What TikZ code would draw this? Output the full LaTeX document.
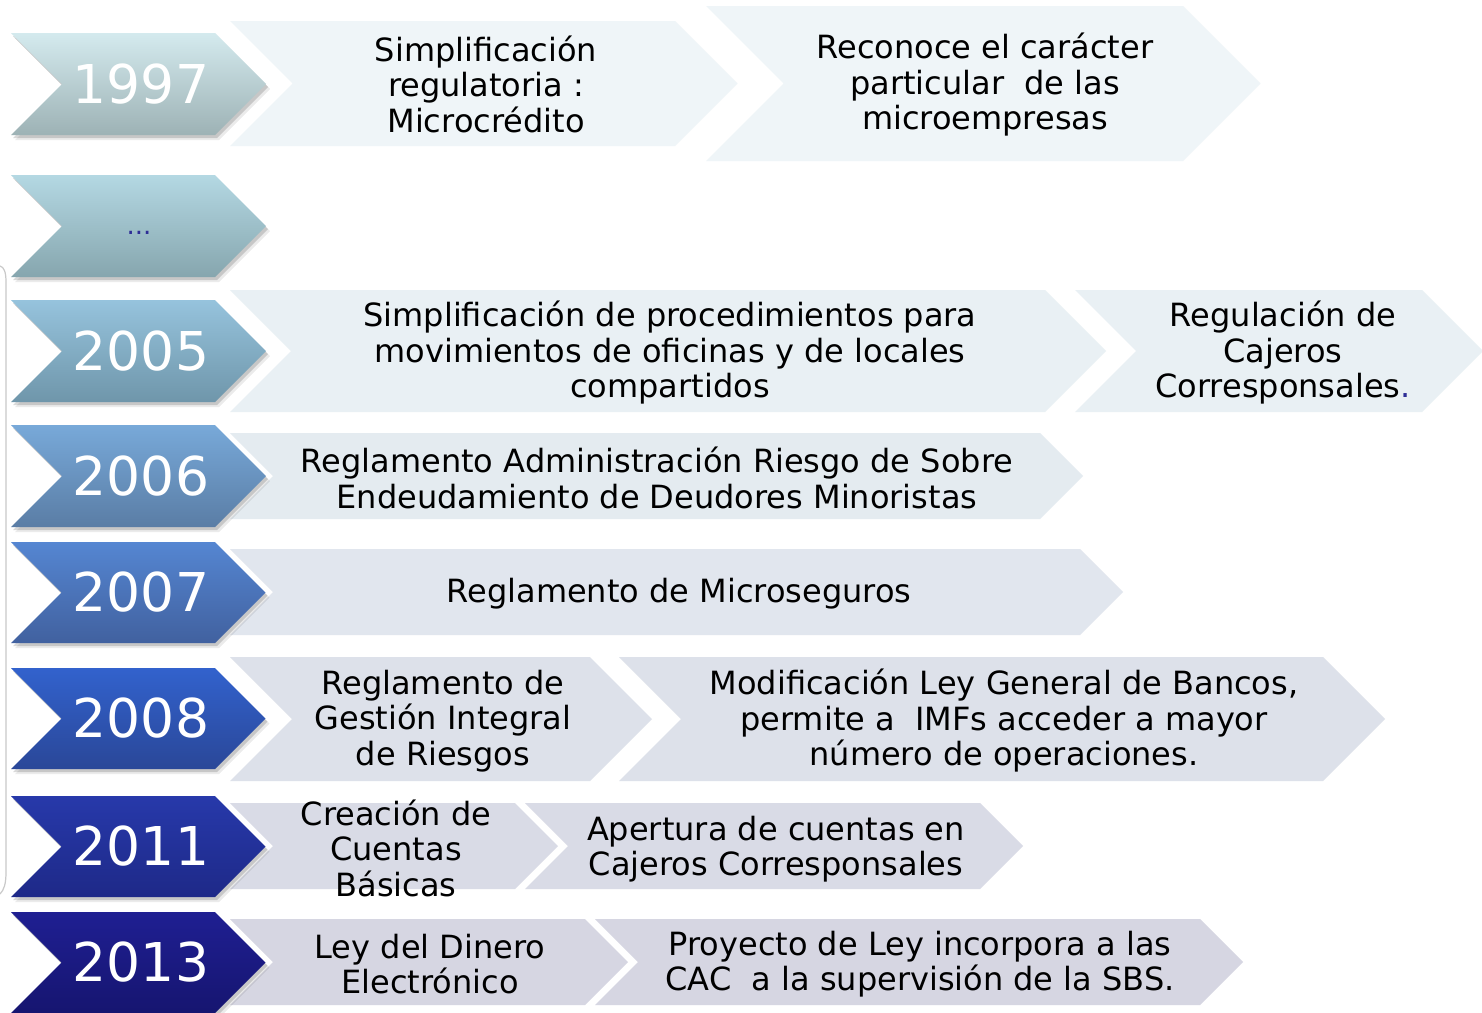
\documentclass[tikz,border=0pt]{standalone}
\usepackage{fontspec}
\setmainfont{DejaVu Sans}
\usetikzlibrary{shadows}
\definecolor{yAt}{HTML}{D4EAEE}\definecolor{yAb}{HTML}{9DB2B5}
\definecolor{yBt}{HTML}{B4D8E3}\definecolor{yBb}{HTML}{86A6AE}
\definecolor{yCt}{HTML}{96C3DD}\definecolor{yCb}{HTML}{6F96AA}
\definecolor{yDt}{HTML}{78A9D9}\definecolor{yDb}{HTML}{5A7DA5}
\definecolor{yEt}{HTML}{5586D2}\definecolor{yEb}{HTML}{41619F}
\definecolor{yFt}{HTML}{3262CD}\definecolor{yFb}{HTML}{2A4798}
\definecolor{yGt}{HTML}{2739AA}\definecolor{yGb}{HTML}{1E2988}
\definecolor{yHt}{HTML}{1F1F92}\definecolor{yHb}{HTML}{161570}
\definecolor{eA}{HTML}{EFF5F8}
\definecolor{eB}{HTML}{E9F0F4}
\definecolor{eC}{HTML}{E4EBF0}
\definecolor{eD}{HTML}{E1E6EE}
\definecolor{eE}{HTML}{DDE1EA}
\definecolor{eF}{HTML}{D9DBE6}
\definecolor{eG}{HTML}{D6D6E2}
\definecolor{dotblue}{HTML}{2E2E96}
\definecolor{bracketgray}{HTML}{C9C9C9}
\newcommand{\chevshape}[5]{%
  \pgfmathsetmacro{\chevhh}{(#5-#4)/2}%
  \pgfmathsetmacro{\chevmm}{(#5+#4)/2}%
  \path[#1] (#2,#4) -- (#3,#4) -- ({#3+\chevhh},\chevmm) -- (#3,#5) -- (#2,#5) -- ({#2+\chevhh},\chevmm) -- cycle;%
}
\begin{document}
\begin{tikzpicture}[x=1pt,y=-1pt,
  evtext/.style={align=center, text=black, font=\fontsize{32}{35.5}\selectfont, inner sep=0pt},
  yeartext/.style={text=white, font=\fontsize{53.5}{53.5}\selectfont, inner sep=0pt},
  yearchev/.style={preaction={fill=black, opacity=0.08, transform canvas={xshift=4pt, yshift=-5pt}},
                   drop shadow={shadow xshift=2pt, shadow yshift=-3pt, opacity=0.15, fill=black}}]
\useasboundingbox (0,0) rectangle (1482,1012);
\fill[white] (0,0) rectangle (1482,1012);

% left bracket line
\draw[bracketgray, line width=1.2pt] (0,266) .. controls (4,267) and (6,272) .. (6,282) -- (6,872) .. controls (6,884) and (4,890) .. (0,894);

% event chevrons
\chevshape{fill=eA}{230}{675}{21}{146}
\chevshape{fill=eA}{706}{1183}{6}{161}
\chevshape{fill=eB}{230}{1045}{290}{412}
\chevshape{fill=eB}{1075}{1422}{290}{412}
\chevshape{fill=eC}{230}{1040}{433}{519}
\chevshape{fill=eD}{230}{1080}{549}{635}
\chevshape{fill=eE}{230}{590}{657}{781}
\chevshape{fill=eE}{619}{1323}{657}{781}
\chevshape{fill=eF}{230}{515}{803}{889}
\chevshape{fill=eF}{525}{980}{803}{889}
\chevshape{fill=eG}{230}{585}{919}{1005}
\chevshape{fill=eG}{595}{1200}{919}{1005}

% year chevrons
\chevshape{yearchev, top color=yAt, bottom color=yAb}{11}{215}{33}{135}
\chevshape{yearchev, top color=yBt, bottom color=yBb}{11}{215}{175}{277}
\chevshape{yearchev, top color=yCt, bottom color=yCb}{11}{215}{300}{402}
\chevshape{yearchev, top color=yDt, bottom color=yDb}{11}{215}{425}{527}
\chevshape{yearchev, top color=yEt, bottom color=yEb}{11}{215}{542}{643}
\chevshape{yearchev, top color=yFt, bottom color=yFb}{11}{215}{668}{769}
\chevshape{yearchev, top color=yGt, bottom color=yGb}{11}{215}{796}{897}
\chevshape{yearchev, top color=yHt, bottom color=yHb}{11}{215}{912}{1013}

% year labels
\node[yeartext] (y1997) at (141,84) {1997};
\node[text=dotblue, font=\fontsize{26}{26}\selectfont, inner sep=0pt] (ydots) at (139,233) {...};
\node[yeartext] (y2005) at (141,351) {2005};
\node[yeartext] (y2006) at (141,476) {2006};
\node[yeartext] (y2007) at (141,592) {2007};
\node[yeartext] (y2008) at (141,718) {2008};
\node[yeartext] (y2011) at (141,846) {2011};
\node[yeartext] (y2013) at (141,962) {2013};

% event texts
\node[evtext] (t1997a) at (486,84) {Simplificación\\regulatoria :\\Microcrédito};
\node[evtext] (t1997b) at (985,85) {Reconoce el carácter\\particular\ \ de las\\microempresas};
\node[evtext] (t2005a) at (670,353) {Simplificación de procedimientos para\\movimientos de oficinas y de locales\\compartidos};
\node[evtext] (t2005b) at (1283,353) {Regulación de\\Cajeros\\Corresponsales\textcolor{dotblue}{.}};
\node[evtext] (t2006) at (657,478) {Reglamento Administración Riesgo de Sobre\\Endeudamiento de Deudores Minoristas};
\node[evtext] (t2007) at (679,594) {Reglamento de Microseguros};
\node[evtext] (t2008a) at (443,721) {Reglamento de\\Gestión Integral\\de Riesgos};
\node[evtext] (t2008b) at (1004,721) {Modificación Ley General de Bancos,\\permite a\ \ IMFs acceder a mayor\\número de operaciones.};
\node[evtext] (t2011a) at (396,848) {Creación de\\Cuentas\\Básicas};
\node[evtext] (t2011b) at (776,849) {Apertura de cuentas en\\Cajeros Corresponsales};
\node[evtext] (t2013a) at (430,964) {Ley del Dinero\\Electrónico};
\node[evtext] (t2013b) at (920,964) {Proyecto de Ley incorpora a las\\CAC\ \ a la supervisión de la SBS.};
\end{tikzpicture}
\end{document}
